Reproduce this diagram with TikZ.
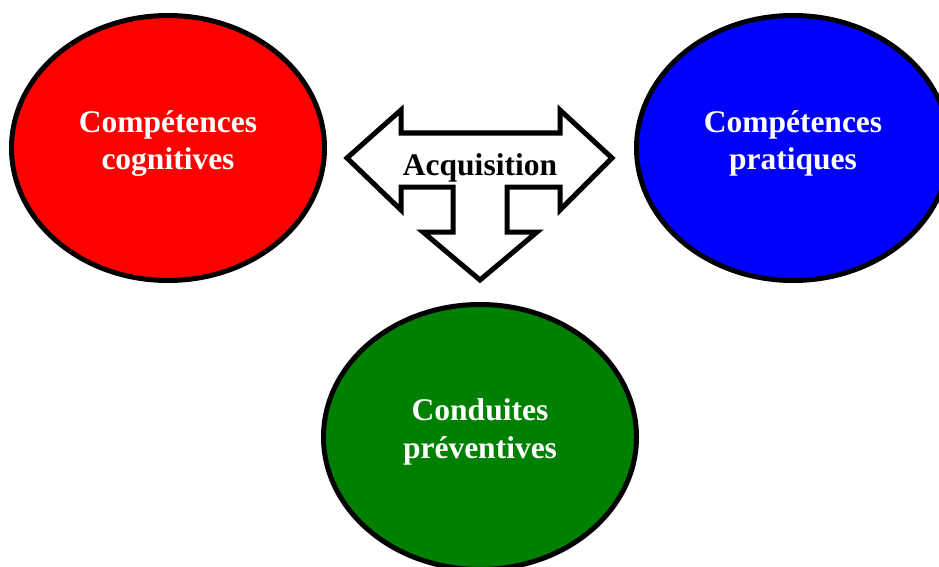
\documentclass[tikz,border=0pt]{standalone}
\usepackage{fontspec}
\setmainfont{Liberation Serif}
\usetikzlibrary{shapes.geometric}
\definecolor{cogred}{RGB}{255,0,0}
\definecolor{pratblue}{RGB}{0,0,255}
\definecolor{condgreen}{RGB}{0,128,0}
\begin{document}
\begin{tikzpicture}[x=1pt,y=-1pt,
  bubble/.style={ellipse, draw=black, line width=5pt, minimum width=313pt,
    minimum height=265pt, inner sep=0pt},
  bubbletext/.style={text=white, align=center, inner sep=0pt,
    font=\fontsize{31.5}{37.5}\selectfont\bfseries},
  arrowshape/.style={draw=black, fill=white, line width=5pt, miter limit=10},
  arrowtext/.style={text=black, inner sep=0pt, font=\fontsize{31.5}{36}\selectfont\bfseries}]
\useasboundingbox (0,0) rectangle (939,567);
% ellipses
\node[bubble, fill=cogred] (cog) at (168,148) {};
\node[bubble, fill=pratblue] (prat) at (793,148) {};
\node[bubble, fill=condgreen] (cond) at (480,437) {};
\node[bubbletext] (cogtxt) at (cog.center) [yshift=4.5pt] {Compétences\\cognitives};
\node[bubbletext] (prattxt) at (prat.center) [yshift=4.5pt] {Compétences\\pratiques};
\node[bubbletext] (condtxt) at (cond.center) [yshift=5pt] {Conduites\\préventives};
% three-way arrow
\draw[arrowshape] (347,158) -- (401,110) -- (401,133) -- (560,133) -- (560,110)
  -- (612,158) -- (560,210) -- (560,187) -- (507,187) -- (507,232) -- (537,232)
  -- (480,280) -- (423,232) -- (453,232) -- (453,187) -- (401,187) -- (401,210)
  -- cycle;
\node[arrowtext, anchor=base] (acq) at (480,175) {Acquisition};
\end{tikzpicture}
\end{document}
